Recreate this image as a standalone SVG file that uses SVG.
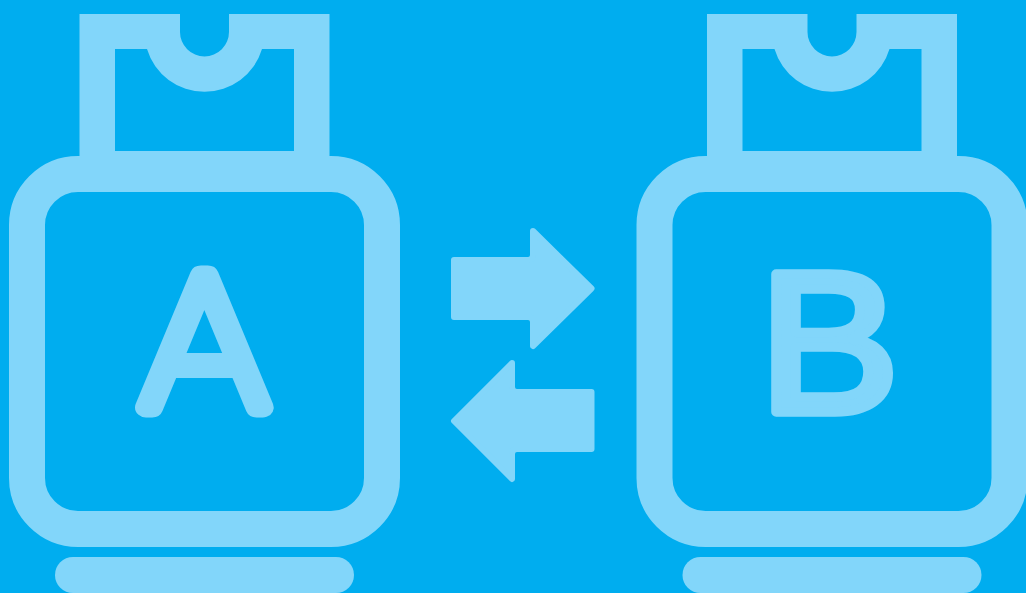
<svg xmlns="http://www.w3.org/2000/svg" width="1026" height="593" viewBox="0 0 1026 593">
<style>
.bg{fill:#00ADEF}
.fill{fill:#82D6FA}
.ring{fill:none;stroke:#82D6FA;stroke-width:36}
.arrow{fill:#82D6FA;stroke:#82D6FA;stroke-width:6;stroke-linejoin:round}
.letter-a{font-family:Roboto,"Liberation Sans",sans-serif;font-weight:100;font-size:186px;fill:#82D6FA;stroke:#82D6FA;stroke-width:20;stroke-linejoin:round;stroke-linecap:round}
.letter-b{font-family:"Liberation Sans",Arial,sans-serif;font-size:200px;fill:#82D6FA;stroke:#82D6FA;stroke-width:9.5;stroke-linejoin:round}
</style>
<defs>
<g id="tank">
<path class="fill" fill-rule="evenodd" d="M79.5 165V14H180V32A24.5 24.5 0 0 0 229 32V14H329.5V165ZM115 151V49H147A60 60 0 0 0 262 49H294V151Z"/>
<rect class="ring" x="27" y="174" width="355" height="355" rx="51" ry="51"/>
<rect class="fill" x="55" y="557" width="299" height="36" rx="18" ry="18"/>
</g>
</defs>
<rect class="bg" width="1026" height="593"/>
<g id="node-a">
<use href="#tank"/>
<text class="letter-a" transform="translate(204.5 407) scale(1.11 1)" text-anchor="middle">A</text>
</g>
<g id="node-b">
<use href="#tank" x="627.5"/>
<text class="letter-b" transform="translate(759 412) scale(1.05 1)">B</text>
</g>
<g id="connectors">
<path class="arrow" d="M454 260H528Q533 260 533 255V231L591.5 288.5L533 346V322Q533 317 528 317H454Z"/>
<path class="arrow" d="M591.5 392H517Q512 392 512 387V363L454 421L512 479V454Q512 449 517 449H591.5Z"/>
</g>
</svg>
